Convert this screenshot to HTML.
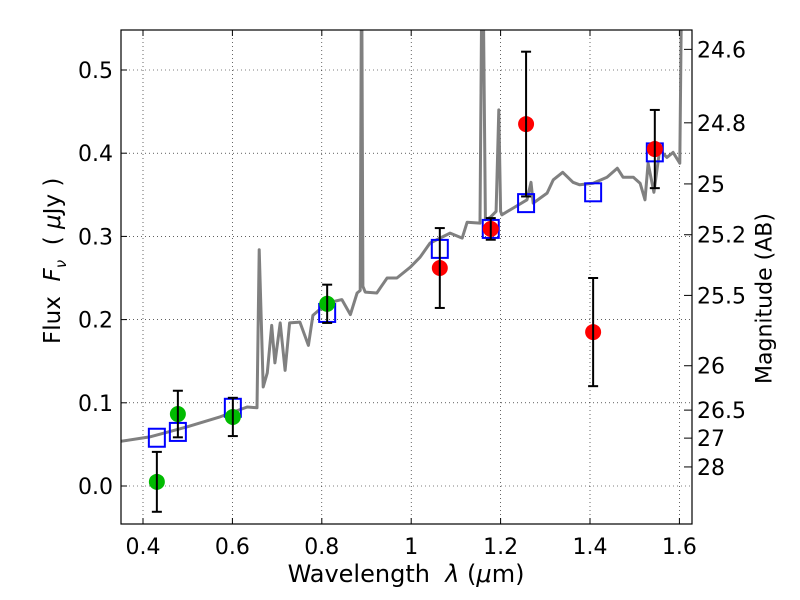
<!DOCTYPE html>
<html><head><meta charset="utf-8"><style>
body{margin:0;background:#fff;}
svg{display:block;font-family:"DejaVu Sans","Liberation Sans",sans-serif;}
</style></head><body>
<svg id="c" width="800" height="600"></svg>
<script>
const xTicks=[0.4,0.6,0.8,1.0,1.2,1.4,1.6];
const xTickLabels=["0.4","0.6","0.8","1","1.2","1.4","1.6"];
const yTicks=[0,0.1,0.2,0.3,0.4,0.5];
const yTickLabels=["0.0","0.1","0.2","0.3","0.4","0.5"];
const magTicks=[24.6,24.8,25,25.2,25.5,26,26.5,27,28];
const magLabels=["24.6","24.8","25","25.2","25.5","26","26.5","27","28"];
const specWave=[0.33,0.415,0.498,0.572,0.633,0.655,0.660,0.669,0.678,0.688,0.695,0.707,0.718,0.728,0.751,0.770,0.780,0.812,0.845,0.864,0.879,0.886,0.889,0.892,0.897,0.923,0.946,0.968,0.998,1.020,1.042,1.087,1.114,1.125,1.154,1.158,1.161,1.166,1.177,1.190,1.196,1.200,1.203,1.228,1.259,1.268,1.273,1.304,1.318,1.339,1.362,1.377,1.407,1.438,1.461,1.474,1.497,1.512,1.523,1.530,1.543,1.556,1.572,1.586,1.601,1.605,1.609,1.624];
const specFlux=[0.052,0.059,0.071,0.083,0.095,0.094,0.284,0.119,0.136,0.193,0.148,0.196,0.139,0.196,0.197,0.169,0.205,0.22,0.224,0.206,0.232,0.235,0.65,0.24,0.233,0.232,0.25,0.25,0.263,0.275,0.292,0.304,0.298,0.317,0.316,0.6,0.6,0.32,0.323,0.33,0.452,0.33,0.326,0.334,0.344,0.365,0.34,0.352,0.368,0.377,0.365,0.362,0.364,0.371,0.382,0.371,0.371,0.364,0.344,0.388,0.353,0.404,0.395,0.401,0.388,0.6,0.6,0.6];
const greenWave=[0.431,0.478,0.601,0.812];
const greenFlux=[0.005,0.0865,0.083,0.219];
const greenErr=[0.036,0.028,0.023,0.023];
const redWave=[1.064,1.178,1.257,1.407,1.545];
const redFlux=[0.262,0.309,0.435,0.185,0.405];
const redErr=[0.048,0.013,0.087,0.065,0.047];
const boxWave=[0.431,0.478,0.601,0.812,1.064,1.178,1.257,1.407,1.545];
const boxFlux=[0.058,0.065,0.094,0.208,0.285,0.309,0.34,0.353,0.401];

const L=121,R=692,T=30,B=524;
const X=v=>143+(v-0.4)*447;
const Y=v=>486-v*832;
const NS="http://www.w3.org/2000/svg";
const svg=document.getElementById('c');
function mk(t,a,p){const e=document.createElementNS(NS,t);for(const k in a)e.setAttribute(k,a[k]);(p||svg).appendChild(e);return e;}
const defs=mk('defs',{});const cp=mk('clipPath',{id:'clip'},defs);mk('rect',{x:L,y:T,width:R-L,height:B-T},cp);

xTicks.forEach(v=>{const g=mk('line',{x1:X(v),x2:X(v),y1:T,y2:B,stroke:'#000','stroke-width':0.6,'stroke-dasharray':'1,3'});

});
yTicks.forEach(v=>{const g=mk('line',{x1:L,x2:R,y1:Y(v),y2:Y(v),stroke:'#000','stroke-width':0.6,'stroke-dasharray':'1,3'});

});

let d='';specWave.forEach((w,i)=>{d+=(i?'L':'M')+X(w).toFixed(1)+','+Y(specFlux[i]).toFixed(1);});
const sp=mk('path',{d:d,fill:'none',stroke:'#808080','stroke-width':3,'clip-path':'url(#clip)','stroke-linejoin':'round'});



boxWave.forEach((w,i)=>{const r=mk('rect',{x:X(w)-8,y:Y(boxFlux[i])-9,width:16,height:18,fill:'none',stroke:'#0000ff','stroke-width':2});

});

function pts(ws,fs,es,col,name){ws.forEach((w,i)=>{
const x=X(w),y1=Y(fs[i]-es[i]),y2=Y(fs[i]+es[i]);
const g=mk('g',{'clip-path':'url(#clip)'});


mk('circle',{cx:x,cy:Y(fs[i]),r:8,fill:col},g);
mk('line',{x1:x,x2:x,y1:y1,y2:y2,stroke:'#000','stroke-width':2},g);
mk('line',{x1:x-5,x2:x+5,y1:y1,y2:y1,stroke:'#000','stroke-width':2},g);
mk('line',{x1:x-5,x2:x+5,y1:y2,y2:y2,stroke:'#000','stroke-width':2},g);
});}
pts(greenWave,greenFlux,greenErr,'#00bb00','hst-point');
pts(redWave,redFlux,redErr,'#ff0000','ir-point');

const fr=mk('rect',{x:L,y:T,width:R-L,height:B-T,fill:'none',stroke:'#000','stroke-width':1.2});



xTicks.forEach((v,i)=>{const x=X(v);
mk('line',{x1:x,x2:x,y1:B,y2:B-6,stroke:'#000'});mk('line',{x1:x,x2:x,y1:T,y2:T+6,stroke:'#000'});
const t=mk('text',{x:x,y:554,'font-size':22,'text-anchor':'middle'});t.textContent=xTickLabels[i];

});
yTicks.forEach((v,i)=>{const y=Y(v);
mk('line',{x1:L,x2:L+6,y1:y,y2:y,stroke:'#000'});
const t=mk('text',{x:113,y:y+8,'font-size':22,'text-anchor':'end'});t.textContent=yTickLabels[i];

});
magTicks.forEach((m,i)=>{const y=Y(Math.pow(10,(23.9-m)/2.5));
mk('line',{x1:R-8,x2:R,y1:y,y2:y,stroke:'#000'});
const t=mk('text',{x:697,y:y+8,'font-size':22});t.textContent=magLabels[i];

});
</script>
<div style="position:absolute;left:0;top:560px;width:812px;text-align:center;font:24px 'DejaVu Sans','Liberation Sans',sans-serif;">Wavelength &nbsp;<i>λ</i> (<i>μ</i>m)</div>
<div style="position:absolute;left:-60px;top:246px;width:230px;text-align:center;transform:rotate(-90deg);font:23px 'DejaVu Sans','Liberation Sans',sans-serif;white-space:nowrap;">Flux &nbsp;<i>F<sub style="font-size:15px">ν</sub></i> &nbsp;( <i>μ</i>Jy )</div>
<div style="position:absolute;left:660px;top:286px;width:210px;text-align:center;transform:rotate(-90deg);font:22px 'DejaVu Sans','Liberation Sans',sans-serif;white-space:nowrap;">Magnitude (AB)</div>
</body></html>
